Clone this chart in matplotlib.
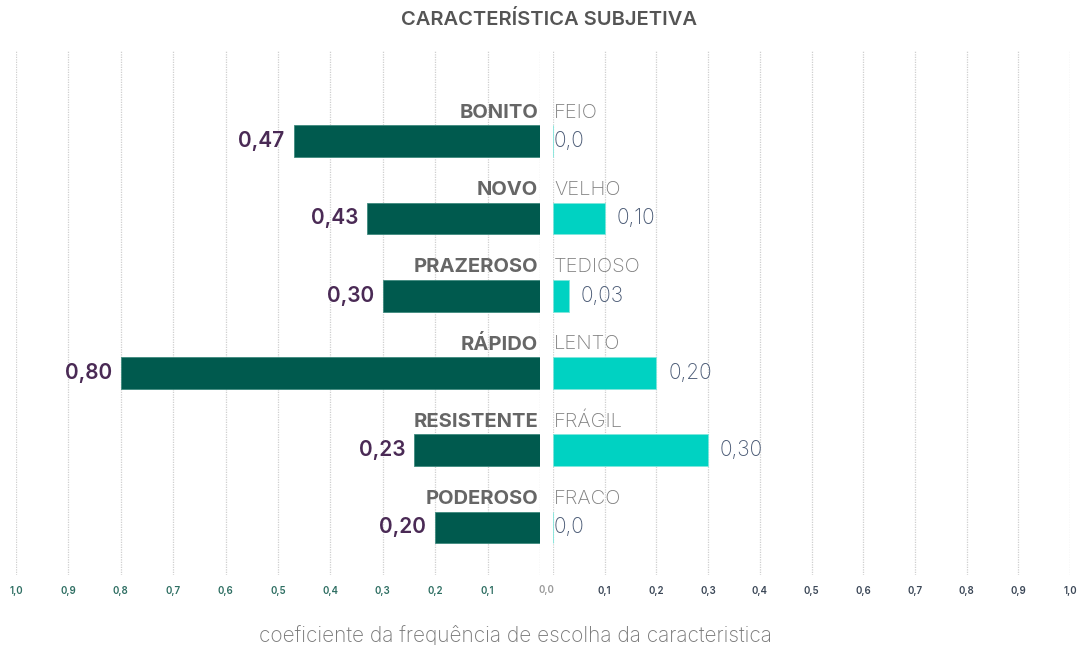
import matplotlib.pyplot as plt
from matplotlib.transforms import offset_copy

plt.rcParams['font.family'] = ['Inter', 'DejaVu Sans']

left_cats = ['BONITO', 'NOVO', 'PRAZEROSO', 'RÁPIDO', 'RESISTENTE', 'PODEROSO']
right_cats = ['FEIO', 'VELHO', 'TEDIOSO', 'LENTO', 'FRÁGIL', 'FRACO']
left_vals = [0.47, 0.33, 0.30, 0.80, 0.24, 0.20]
left_labels = ['0,47', '0,43', '0,30', '0,80', '0,23', '0,20']
right_vals = [0.0, 0.10, 0.03, 0.20, 0.30, 0.0]
right_labels = ['0,0', '0,10', '0,03', '0,20', '0,30', '0,0']
ticks = [0.0, 0.1, 0.2, 0.3, 0.4, 0.5, 0.6, 0.7, 0.8, 0.9, 1.0]
tick_labels = ['', '0,1', '0,2', '0,3', '0,4', '0,5', '0,6', '0,7', '0,8', '0,9', '1,0']

dark = '#005a4e'
teal = '#00d2c2'
W, H = 1078, 645

fig = plt.figure(figsize=(W / 100, H / 100), dpi=100)
fig.patch.set_facecolor('white')

top, bottom = 50, 575
axl = fig.add_axes([16 / W, 1 - bottom / H, (540 - 16) / W, (bottom - top) / H])
axr = fig.add_axes([553 / W, 1 - bottom / H, (1070 - 553) / W, (bottom - top) / H])

pos = list(range(len(left_cats)))
axl.barh(pos, left_vals, height=0.41, color=dark, edgecolor='#3f8a7e', linewidth=0.6, zorder=3)
axr.barh(pos, right_vals, height=0.41, color=teal, edgecolor='#7fe6dc', linewidth=0.6, zorder=3)

axl.set_xlim(1, 0)
axr.set_xlim(0, 1)
for ax in (axl, axr):
    ax.set_ylim(5.615, -1.18)
    ax.set_facecolor('none')
    for s in ax.spines.values():
        s.set_visible(False)
    ax.set_yticks([])
    ax.set_xticks(ticks)
    ax.set_xticklabels(tick_labels, fontsize=7, fontweight='semibold')
    ax.tick_params(axis='x', length=0, pad=8)
    ax.grid(axis='x', color='#cfcfcf', linestyle=(0, (1, 1)), linewidth=0.9, zorder=0)

for t in axl.get_xticklabels():
    t.set_color('#2f6f63')
for t in axr.get_xticklabels():
    t.set_color('#3c4858')
# single shared zero label between the two halves
fig.text(546 / W, 1 - 590 / H, '0,0', ha='center', va='center', fontsize=7,
         fontweight='semibold', color='#9a9a9a')

for i in pos:
    axl.text(0, i - 0.37, left_cats[i], ha='right', va='center', fontsize=14.5,
             fontweight='bold', color='#666666',
             transform=offset_copy(axl.transData, fig=fig, x=-2, y=0, units='dots'))
    axr.text(0, i - 0.37, right_cats[i], ha='left', va='center', fontsize=14.5,
             fontweight='light', color='#808080',
             transform=offset_copy(axr.transData, fig=fig, x=1, y=0, units='dots'))
    axl.text(left_vals[i], i, left_labels[i], ha='right', va='center', fontsize=15,
             fontweight='semibold', color='#4a2a55',
             transform=offset_copy(axl.transData, fig=fig, x=-9, y=0, units='dots'))
    off = 12 if right_vals[i] > 0 else 1
    axr.text(right_vals[i], i, right_labels[i], ha='left', va='center', fontsize=15,
             fontweight='light', color='#4a5a75',
             transform=offset_copy(axr.transData, fig=fig, x=off, y=0, units='dots'))

fig.text(549 / W, 1 - 20 / H, 'CARACTERÍSTICA SUBJETIVA', ha='center', va='center',
         fontsize=14.5, fontweight='semibold', color='#555555')
fig.text(515 / W, 1 - 635 / H, 'coeficiente da frequência de escolha da caracteristica',
         ha='center', va='center', fontsize=15, fontweight='light', color='#777777')

fig.savefig('out.png', dpi=100, facecolor='white')
